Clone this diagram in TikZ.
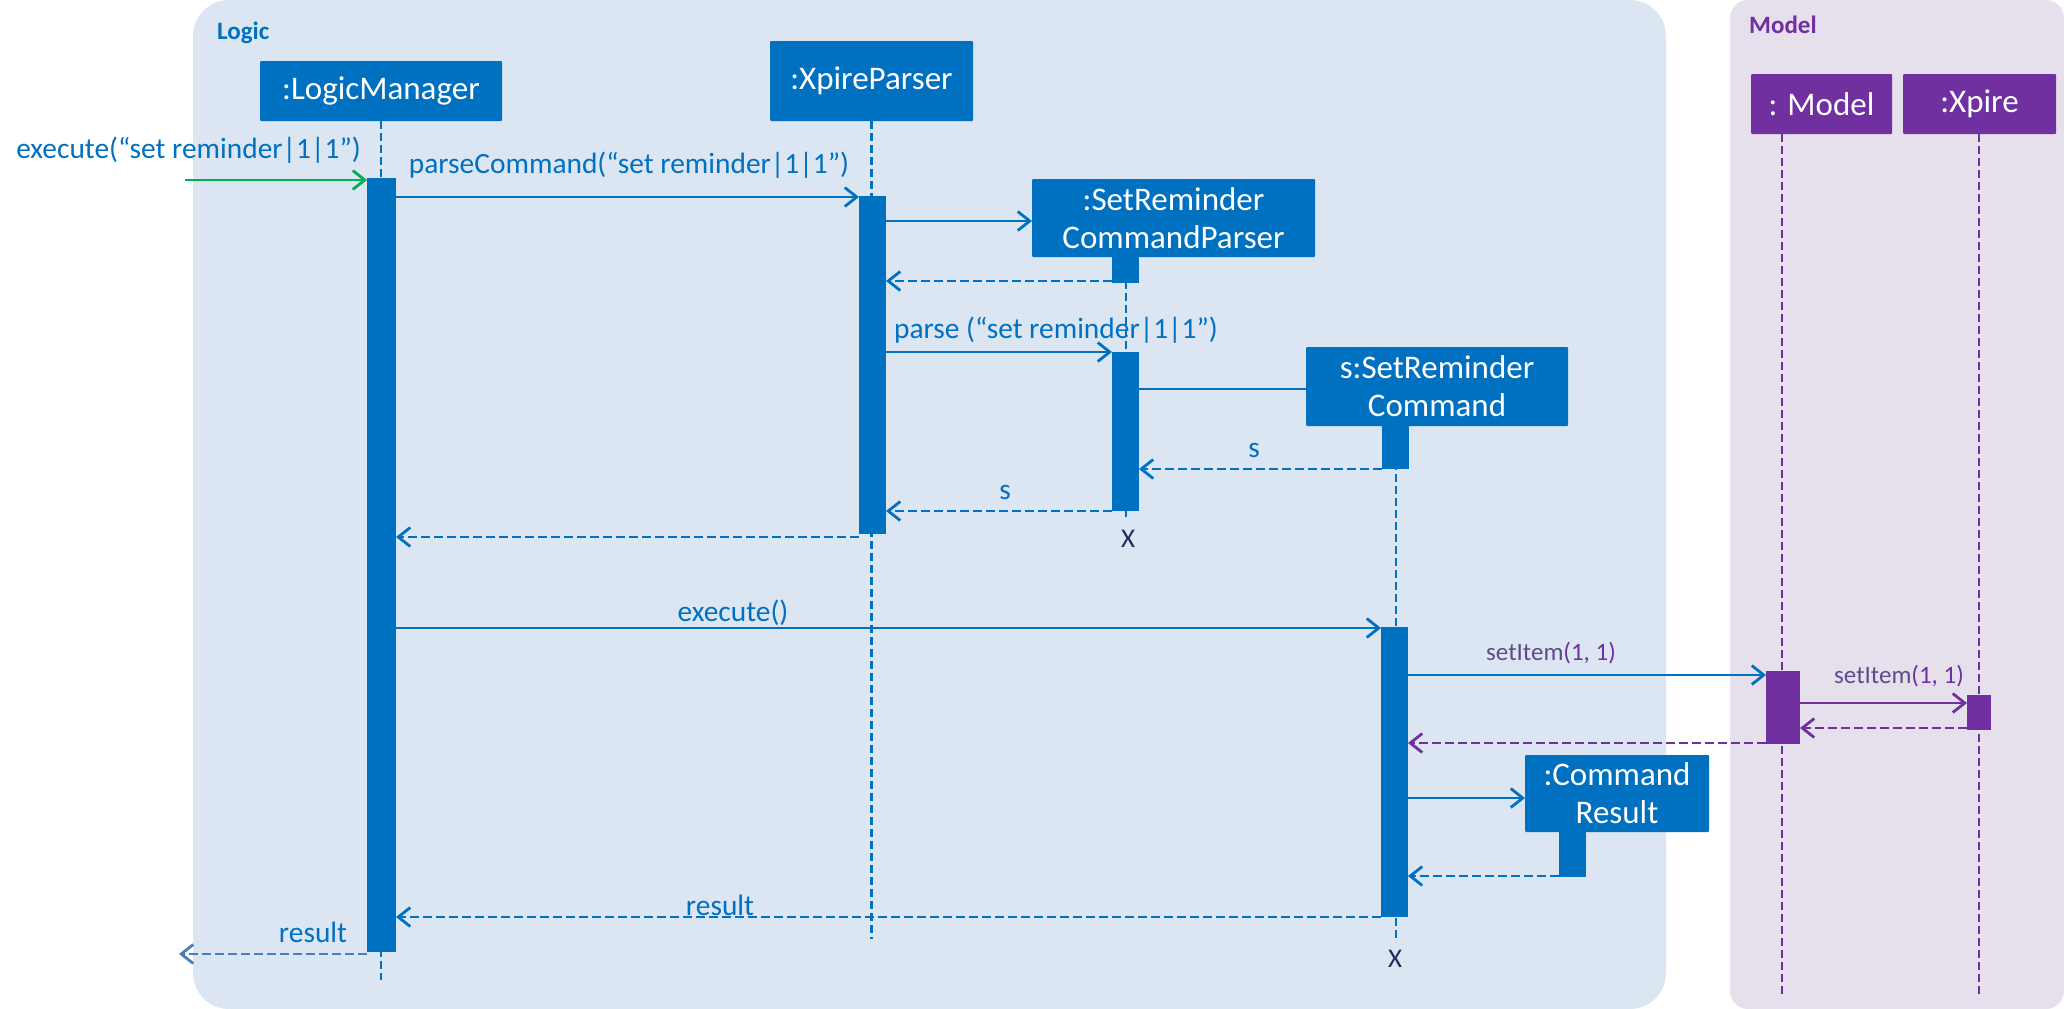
\documentclass[tikz,border=0pt]{standalone}
\usepackage{fontspec}
\setmainfont{Carlito}
\usetikzlibrary{arrows.meta}
\definecolor{myblue}{HTML}{0070C0}
\definecolor{mypurple}{HTML}{7030A0}
\definecolor{greypurple}{HTML}{5F4B8B}
\definecolor{logicbg}{HTML}{DCE6F2}
\definecolor{modelbg}{HTML}{E6E0EC}
\definecolor{navy}{HTML}{1F2D5A}
\definecolor{mygreen}{HTML}{00B050}
\definecolor{lightblue}{HTML}{4A7EBB}
\begin{document}
\begin{tikzpicture}[x=1pt,y=-1pt,
  obj/.style={fill=myblue, text=white, inner sep=0pt, outer sep=0pt, rounded corners=1pt,
    align=center, font=\fontsize{33}{38}\selectfont},
  mobj/.style={obj, fill=mypurple},
  act/.style={fill=myblue, inner sep=0pt, outer sep=0pt, minimum width=27pt},
  mact/.style={act, fill=mypurple},
  life/.style={draw=myblue, line width=2.6pt, dash pattern=on 8pt off 4pt},
  mlife/.style={life, draw=mypurple},
  msg/.style={draw=myblue, line width=2.8pt, -{Straight Barb[length=12pt,width=19pt]}},
  ret/.style={msg, dash pattern=on 9pt off 4pt},
  mmsg/.style={msg, draw=mypurple},
  mret/.style={ret, draw=mypurple},
  lbl/.style={text=myblue, inner sep=0pt, font=\fontsize{29.4}{33}\selectfont},
  mlbl/.style={inner sep=0pt, font=\fontsize{25}{29}\selectfont},
  xmark/.style={text=navy, inner sep=0pt, font=\fontsize{27}{30}\selectfont},
  grp/.style={inner sep=0pt, anchor=west, font=\fontsize{25}{29}\selectfont\bfseries}
]
\useasboundingbox (0,0) rectangle (2064,1009);
% panels
\fill[logicbg, rounded corners=36pt] (193,0) rectangle (1666,1009);
\fill[modelbg, rounded corners=18pt] (1730,0) rectangle (2064,1009);
\node[grp, text=myblue] (logiclbl) at (217,33) {Logic};
\node[grp, text=mypurple] (modellbl) at (1749,25) {Model};

% header boxes
\node[obj, minimum width=242pt, minimum height=60pt] (lm) at (381,91) {:LogicManager};
\node[obj, minimum width=203pt, minimum height=80pt] (xp) at (871.5,81) {:XpireParser};
\node[obj, minimum width=283pt, minimum height=78pt] (srcp) at (1173.5,218) {:SetReminder\\CommandParser};
\node[obj, minimum width=262pt, minimum height=79pt] (src) at (1437,386.5) {s:SetReminder\\Command};
\node[obj, minimum width=184pt, minimum height=77pt] (cr) at (1617,793.5) {:Command\\Result};
\node[mobj, minimum width=141pt, minimum height=60pt] (model) at (1821.5,104) {: Model};
\node[mobj, minimum width=153pt, minimum height=60pt] (xpire) at (1979.5,104) {:Xpire};

% lifelines
\coordinate (lmEnd) at (381,980);
\coordinate (xpEnd) at (871.5,939);
\coordinate (srcpEnd) at (1126,518);
\coordinate (srcEnd) at (1396,942);
\coordinate (modelEnd) at (1782,997);
\coordinate (xpireEnd) at (1979,997);
\draw[life] (lm.south) -- (lmEnd);
\draw[life] (xp.south) -- (xpEnd);
\draw[life] (1126,257) -- (srcpEnd);
\draw[life] (1396,426) -- (srcEnd);
\draw[mlife] (1782,134) -- (modelEnd);
\draw[mlife] (1979,134) -- (xpireEnd);

% activations
\node[act, minimum width=29pt, minimum height=774pt] (lmA) at (381.5,565) {};
\node[act, minimum height=338pt] (xpA) at (872.5,365) {};
\node[act, minimum height=26pt] (srcpA1) at (1125.5,270) {};
\node[act, minimum height=159pt] (srcpA2) at (1125.5,431.5) {};
\node[act, minimum height=43pt] (srcA1) at (1395.5,447.5) {};
\node[act, minimum height=290pt] (srcA2) at (1394.5,772) {};
\node[act, minimum height=45pt] (crA) at (1572.5,854.5) {};
\node[mact, minimum width=34pt, minimum height=73pt] (modelA) at (1783,707.5) {};
\node[mact, minimum width=24pt, minimum height=35pt] (xpireA) at (1979,712.5) {};

% destruction marks
\node[xmark] (x1) at (1128,539) {X};
\node[xmark] (x2) at (1395,959) {X};

% messages
\coordinate (inStart) at (185,180);
\draw[msg, draw=mygreen] (inStart) -- (lmA.west |- inStart);
\node[lbl] (l0) at (188.5,150) {execute(“set reminder|1|1”)};

\draw[msg] (lmA.east |- 0,197) -- (xpA.west |- 0,197);
\node[lbl] (l1) at (629,165) {parseCommand(“set reminder|1|1”)};

\draw[msg] (xpA.east |- 0,221) -- (srcp.west |- 0,221);
\draw[ret] (srcpA1.west |- 0,281) -- (xpA.east |- 0,281);

\draw[msg] (xpA.east |- 0,352) -- (srcpA2.west |- 0,352);
\node[lbl] (l2) at (1056,330) {parse (“set reminder|1|1”)};

\draw[draw=myblue, line width=2.8pt] (srcpA2.east |- 0,389) -- (src.west |- 0,389);

\draw[ret] (srcA1.west |- 0,469) -- (srcpA2.east |- 0,469);
\node[lbl] (l3) at (1254,450) {s};
\draw[ret] (srcpA2.west |- 0,511) -- (xpA.east |- 0,511);
\node[lbl] (l4) at (1005,492) {s};

\draw[ret] (xpA.west |- 0,537) -- (lmA.east |- 0,537);

\draw[msg] (lmA.east |- 0,628) -- (srcA2.west |- 0,628);
\node[lbl] (l5) at (733,613) {execute()};

\draw[msg] (srcA2.east |- 0,675) -- (modelA.west |- 0,675);
\node[mlbl] (l6) at (1551,653) {\textcolor{greypurple}{setItem}\textcolor{mypurple}{(1, 1)}};
\draw[mmsg] (modelA.east |- 0,703) -- (xpireA.west |- 0,703);
\node[mlbl] (l7) at (1899,676) {\textcolor{greypurple}{setItem}\textcolor{mypurple}{(1, 1)}};
\draw[mret] (xpireA.west |- 0,728) -- (modelA.east |- 0,728);
\draw[mret] (modelA.west |- 0,743) -- (srcA2.east |- 0,743);

\draw[msg] (srcA2.east |- 0,798) -- (cr.west |- 0,798);
\draw[ret] (crA.west |- 0,876) -- (srcA2.east |- 0,876);

\draw[ret] (srcA2.west |- 0,917) -- (lmA.east |- 0,917);
\node[lbl] (l8) at (720,905) {result};

\coordinate (outEnd) at (179,954);
\draw[ret, draw=lightblue] (lmA.west |- outEnd) -- (outEnd);
\node[lbl] (l9) at (313,932) {result};
\end{tikzpicture}
\end{document}
